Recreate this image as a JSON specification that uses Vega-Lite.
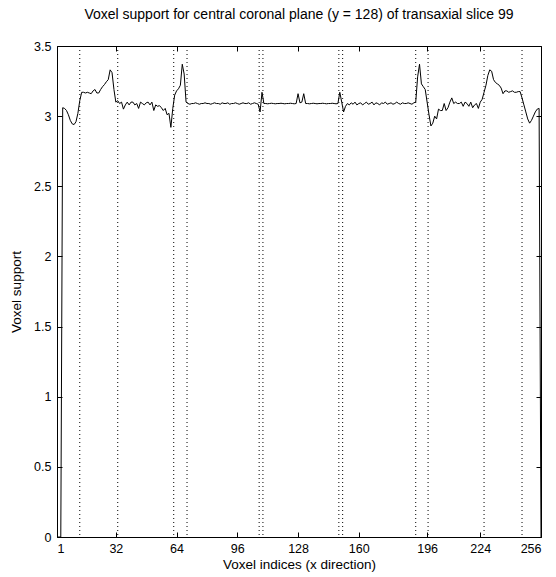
{
  "$schema": "https://vega.github.io/schema/vega-lite/v6.json",
  "autosize": {"type": "none"},
  "padding": {"left": 57, "top": 46, "right": 15, "bottom": 40},
  "width": 484,
  "height": 491,
  "background": "white",
  "title": {"text": "Voxel support for central coronal plane (y = 128) of transaxial slice 99", "font": "Liberation Sans", "fontSize": 14, "fontWeight": "normal", "color": "black", "anchor": "middle", "offset": 18},
  "config": {
    "view": {"stroke": "black", "strokeWidth": 1},
    "axis": {"labelFont": "Liberation Sans", "labelFontSize": 12.5, "labelColor": "black", "titleFont": "Liberation Sans", "titleFontSize": 13.5, "titleFontWeight": "normal", "titleColor": "black", "tickColor": "black", "tickSize": -5, "grid": false, "domain": false}
  },
  "datasets": {
    "curve": [
      {"x":1,"v":0},{"x":2,"v":0},{"x":3,"v":0},{"x":4,"v":3.06},{"x":5,"v":3.055},{"x":6,"v":3.04},{"x":7,"v":3.01},{"x":8,"v":2.97},{"x":9,"v":2.945},{"x":10,"v":2.94},
      {"x":11,"v":2.96},{"x":12,"v":3.02},{"x":13,"v":3.11},{"x":14,"v":3.17},{"x":15,"v":3.17},{"x":16,"v":3.165},{"x":17,"v":3.17},{"x":18,"v":3.165},{"x":19,"v":3.16},{"x":20,"v":3.18},
      {"x":21,"v":3.19},{"x":22,"v":3.165},{"x":23,"v":3.165},{"x":24,"v":3.19},{"x":25,"v":3.21},{"x":26,"v":3.225},{"x":27,"v":3.245},{"x":28,"v":3.26},{"x":29,"v":3.33},{"x":30,"v":3.31},
      {"x":31,"v":3.19},{"x":32,"v":3.1},{"x":33,"v":3.11},{"x":34,"v":3.09},{"x":35,"v":3.1},{"x":36,"v":3.05},{"x":37,"v":3.08},{"x":38,"v":3.1},{"x":39,"v":3.08},{"x":40,"v":3.1},
      {"x":41,"v":3.1},{"x":42,"v":3.08},{"x":43,"v":3.09},{"x":44,"v":3.055},{"x":45,"v":3.1},{"x":46,"v":3.09},{"x":47,"v":3.08},{"x":48,"v":3.095},{"x":49,"v":3.1},{"x":50,"v":3.08},
      {"x":51,"v":3.1},{"x":52,"v":3.04},{"x":53,"v":3.08},{"x":54,"v":3.07},{"x":55,"v":3.075},{"x":56,"v":3.06},{"x":57,"v":3.04},{"x":58,"v":3.055},{"x":59,"v":3.01},{"x":60,"v":3.02},
      {"x":61,"v":2.92},{"x":62,"v":3.055},{"x":63,"v":3.15},{"x":64,"v":3.18},{"x":65,"v":3.195},{"x":66,"v":3.22},{"x":67,"v":3.37},{"x":68,"v":3.3},{"x":69,"v":3.1},{"x":70,"v":3.09},
      {"x":71,"v":3.085},{"x":72,"v":3.09},{"x":73,"v":3.09},{"x":74,"v":3.095},{"x":75,"v":3.09},{"x":76,"v":3.085},{"x":77,"v":3.09},{"x":78,"v":3.09},{"x":79,"v":3.095},{"x":80,"v":3.09},
      {"x":81,"v":3.09},{"x":82,"v":3.085},{"x":83,"v":3.09},{"x":84,"v":3.095},{"x":85,"v":3.09},{"x":86,"v":3.09},{"x":87,"v":3.085},{"x":88,"v":3.095},{"x":89,"v":3.09},{"x":90,"v":3.09},
      {"x":91,"v":3.095},{"x":92,"v":3.085},{"x":93,"v":3.09},{"x":94,"v":3.09},{"x":95,"v":3.095},{"x":96,"v":3.09},{"x":97,"v":3.085},{"x":98,"v":3.09},{"x":99,"v":3.095},{"x":100,"v":3.09},
      {"x":101,"v":3.09},{"x":102,"v":3.095},{"x":103,"v":3.085},{"x":104,"v":3.09},{"x":105,"v":3.095},{"x":106,"v":3.09},{"x":107,"v":3.085},{"x":108,"v":3.03},{"x":109,"v":3.17},{"x":110,"v":3.09},
      {"x":111,"v":3.09},{"x":112,"v":3.088},{"x":113,"v":3.09},{"x":114,"v":3.092},{"x":115,"v":3.09},{"x":116,"v":3.088},{"x":117,"v":3.09},{"x":118,"v":3.09},{"x":119,"v":3.092},{"x":120,"v":3.09},
      {"x":121,"v":3.088},{"x":122,"v":3.09},{"x":123,"v":3.09},{"x":124,"v":3.092},{"x":125,"v":3.09},{"x":126,"v":3.088},{"x":127,"v":3.09},{"x":128,"v":3.16},{"x":129,"v":3.095},{"x":130,"v":3.1},
      {"x":131,"v":3.16},{"x":132,"v":3.09},{"x":133,"v":3.09},{"x":134,"v":3.088},{"x":135,"v":3.09},{"x":136,"v":3.092},{"x":137,"v":3.09},{"x":138,"v":3.088},{"x":139,"v":3.09},{"x":140,"v":3.09},
      {"x":141,"v":3.092},{"x":142,"v":3.09},{"x":143,"v":3.088},{"x":144,"v":3.09},{"x":145,"v":3.09},{"x":146,"v":3.092},{"x":147,"v":3.09},{"x":148,"v":3.088},{"x":149,"v":3.09},{"x":150,"v":3.17},
      {"x":151,"v":3.1},{"x":152,"v":3.03},{"x":153,"v":3.07},{"x":154,"v":3.09},{"x":155,"v":3.08},{"x":156,"v":3.095},{"x":157,"v":3.085},{"x":158,"v":3.1},{"x":159,"v":3.08},{"x":160,"v":3.09},
      {"x":161,"v":3.095},{"x":162,"v":3.08},{"x":163,"v":3.09},{"x":164,"v":3.1},{"x":165,"v":3.085},{"x":166,"v":3.09},{"x":167,"v":3.1},{"x":168,"v":3.08},{"x":169,"v":3.095},{"x":170,"v":3.09},
      {"x":171,"v":3.08},{"x":172,"v":3.095},{"x":173,"v":3.09},{"x":174,"v":3.1},{"x":175,"v":3.085},{"x":176,"v":3.09},{"x":177,"v":3.095},{"x":178,"v":3.085},{"x":179,"v":3.09},{"x":180,"v":3.1},
      {"x":181,"v":3.09},{"x":182,"v":3.085},{"x":183,"v":3.095},{"x":184,"v":3.09},{"x":185,"v":3.09},{"x":186,"v":3.095},{"x":187,"v":3.09},{"x":188,"v":3.085},{"x":189,"v":3.095},{"x":190,"v":3.1},
      {"x":191,"v":3.28},{"x":192,"v":3.37},{"x":193,"v":3.23},{"x":194,"v":3.21},{"x":195,"v":3.19},{"x":196,"v":3.1},{"x":197,"v":3.01},{"x":198,"v":2.93},{"x":199,"v":2.95},{"x":200,"v":3.0},
      {"x":201,"v":2.98},{"x":202,"v":3.05},{"x":203,"v":3.04},{"x":204,"v":3.04},{"x":205,"v":3.09},{"x":206,"v":3.04},{"x":207,"v":3.06},{"x":208,"v":3.1},{"x":209,"v":3.13},{"x":210,"v":3.09},
      {"x":211,"v":3.1},{"x":212,"v":3.09},{"x":213,"v":3.09},{"x":214,"v":3.1},{"x":215,"v":3.07},{"x":216,"v":3.1},{"x":217,"v":3.09},{"x":218,"v":3.07},{"x":219,"v":3.1},{"x":220,"v":3.06},
      {"x":221,"v":3.08},{"x":222,"v":3.09},{"x":223,"v":3.055},{"x":224,"v":3.1},{"x":225,"v":3.12},{"x":226,"v":3.17},{"x":227,"v":3.22},{"x":228,"v":3.29},{"x":229,"v":3.33},{"x":230,"v":3.32},
      {"x":231,"v":3.26},{"x":232,"v":3.24},{"x":233,"v":3.23},{"x":234,"v":3.22},{"x":235,"v":3.2},{"x":236,"v":3.16},{"x":237,"v":3.18},{"x":238,"v":3.18},{"x":239,"v":3.17},{"x":240,"v":3.175},
      {"x":241,"v":3.18},{"x":242,"v":3.17},{"x":243,"v":3.17},{"x":244,"v":3.175},{"x":245,"v":3.175},{"x":246,"v":3.13},{"x":247,"v":3.08},{"x":248,"v":3.03},{"x":249,"v":2.98},{"x":250,"v":2.95},
      {"x":251,"v":2.97},{"x":252,"v":3.0},{"x":253,"v":3.03},{"x":254,"v":3.05},{"x":255,"v":3.055},{"x":256,"v":0}
    ],
    "dots": [
      {"x":13},{"x":33},{"x":62.5},{"x":69.5},{"x":107.5},{"x":109.5},{"x":149.5},{"x":151.5},{"x":190},{"x":196.5},{"x":226},{"x":246}
    ]
  },
  "resolve": {"axis": {"x": "independent", "y": "independent"}},
  "layer": [
    {
      "data": {"name": "dots"},
      "mark": {"type": "rule", "color": "black", "strokeWidth": 1, "strokeDash": [1, 3]},
      "encoding": {
        "x": {"field": "x", "type": "quantitative", "scale": {"domain": [1, 256], "nice": false, "zero": false},
              "axis": {"orient": "top", "values": [1, 32, 64, 96, 128, 160, 196, 224, 256], "labels": false, "title": null}}
      }
    },
    {
      "data": {"name": "curve"},
      "mark": {"type": "line", "color": "black", "strokeWidth": 1},
      "encoding": {
        "x": {"field": "x", "type": "quantitative", "scale": {"domain": [1, 256], "nice": false, "zero": false},
              "axis": {"orient": "bottom", "values": [1, 32, 64, 96, 128, 160, 196, 224, 256], "labelPadding": 10, "title": "Voxel indices (x direction)", "titlePadding": 3}},
        "y": {"field": "v", "type": "quantitative", "scale": {"domain": [0, 3.5], "nice": false},
              "axis": {"orient": "left", "values": [0, 0.5, 1, 1.5, 2, 2.5, 3, 3.5], "format": "~g", "labelPadding": 11, "title": "Voxel support", "titlePadding": 10}}
      }
    },
    {
      "data": {"name": "curve"},
      "mark": {"type": "line", "opacity": 0},
      "encoding": {
        "x": {"field": "x", "type": "quantitative", "scale": {"domain": [1, 256], "nice": false, "zero": false}, "axis": null},
        "y": {"field": "v", "type": "quantitative", "scale": {"domain": [0, 3.5], "nice": false},
              "axis": {"orient": "right", "values": [0, 0.5, 1, 1.5, 2, 2.5, 3, 3.5], "labels": false, "title": null}}
      }
    }
  ]
}
